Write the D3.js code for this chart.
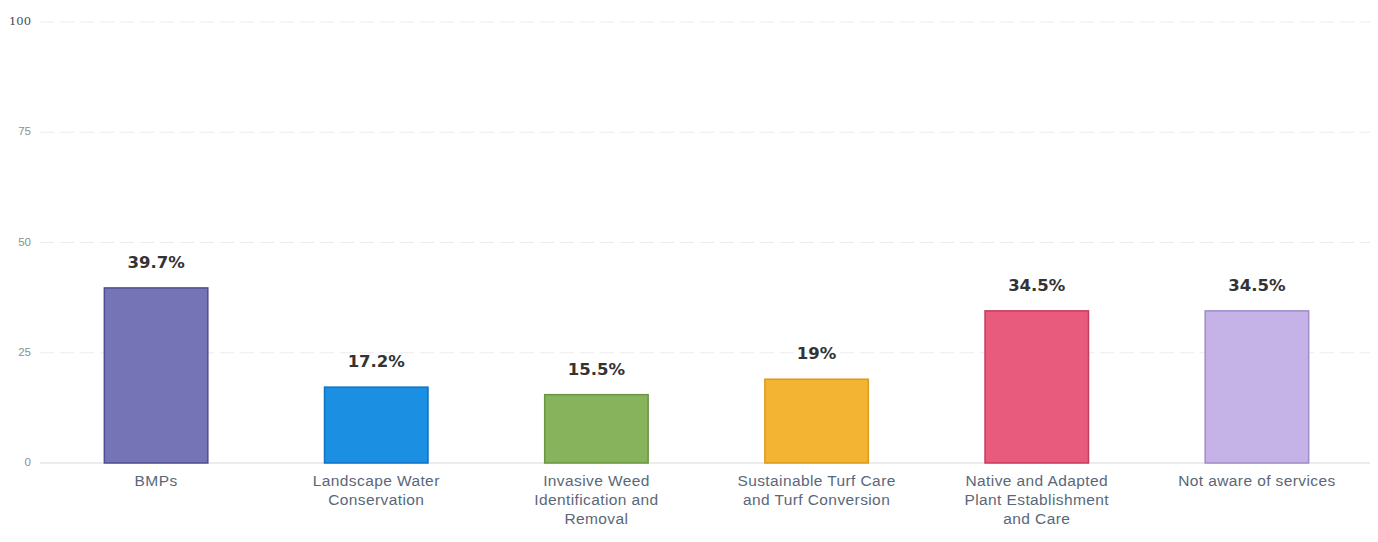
<!DOCTYPE html>
<html>
<head>
<meta charset="utf-8">
<script src="https://cdn.jsdelivr.net/npm/d3@7"></script>
<style>
  html, body { margin: 0; padding: 0; background: #fff; }
  svg { display: block; }
</style>
</head>
<body>
<svg id="chart" width="1378" height="542"></svg>
<script>
// Survey responses: awareness of extension services (percent)
const categories = [
  "BMPs",
  "Landscape Water Conservation",
  "Invasive Weed Identification and Removal",
  "Sustainable Turf Care and Turf Conversion",
  "Native and Adapted Plant Establishment and Care",
  "Not aware of services"
];
const values = [39.7, 17.2, 15.5, 19, 34.5, 34.5];
const valueLabels = ["39.7%", "17.2%", "15.5%", "19%", "34.5%", "34.5%"];
const yTicks = [0, 25, 50, 75, 100];
const fills = ["#7474b6", "#1b8fe2", "#86b35c", "#f4b433", "#e95b7d", "#c5b2e6"];
const strokes = ["#4d4d92", "#0f72c2", "#6a9545", "#dc9a1e", "#c63c5e", "#9f8cc9"];

const svg = d3.select("#chart");
const margin = { left: 46, right: 11, top: 22, bottom: 79 };
const W = 1378, H = 542;

const x = d3.scaleBand()
  .domain(categories)
  .range([margin.left, W - margin.right])
  .paddingInner(0.53)
  .paddingOuter(0.265);

const y = d3.scaleLinear()
  .domain([0, 100])
  .range([H - margin.bottom, margin.top]);

// Horizontal gridlines
svg.append("g")
  .selectAll("line")
  .data(yTicks)
  .join("line")
  .attr("x1", 40)
  .attr("x2", W - 8)
  .attr("y1", d => y(d))
  .attr("y2", d => y(d))
  .attr("stroke", d => d === 0 ? "#d9d9d9" : "#ececec")
  .attr("stroke-width", 1)
  .attr("stroke-dasharray", d => d === 0 ? null : "14,6");

// Y axis tick labels
const yAxis = d3.axisLeft(y).tickValues(yTicks).tickSize(0).tickPadding(0);
const gy = svg.append("g")
  .attr("transform", "translate(31,-1)")
  .call(yAxis);
gy.select(".domain").remove();
gy.selectAll("text")
  .attr("text-anchor", "end")
  .attr("font-family", d => d === 100 ? "'DejaVu Serif', serif" : "'Liberation Sans', Arial, sans-serif")
  .attr("font-size", 11.5)
  .attr("fill", d => d === 100 ? "#3e4a5a" : "#8a8f96");

// Bars
svg.append("g")
  .selectAll("rect")
  .data(values)
  .join("rect")
  .attr("x", (d, i) => x(categories[i]))
  .attr("y", d => y(d))
  .attr("width", x.bandwidth())
  .attr("height", d => y(0) - y(d))
  .attr("fill", (d, i) => fills[i])
  .attr("stroke", (d, i) => strokes[i])
  .attr("stroke-width", 1.5);

// Value labels above bars
svg.append("g")
  .selectAll("text")
  .data(values)
  .join("text")
  .attr("x", (d, i) => x(categories[i]) + x.bandwidth() / 2)
  .attr("y", d => y(d) - 20)
  .attr("text-anchor", "middle")
  .attr("font-family", "'DejaVu Sans', sans-serif")
  .attr("font-weight", "bold")
  .attr("font-size", 16.5)
  .attr("fill", "#333")
  .text((d, i) => valueLabels[i]);

// Category labels, wrapped to fit under each bar
const labelFont = "15.5px 'Liberation Sans', Arial, sans-serif";
function wrapLines(text, maxWidth, ctx) {
  const words = text.split(" ");
  const lines = [];
  let line = "";
  for (const w of words) {
    const test = line ? line + " " + w : w;
    if (ctx.measureText(test).width > maxWidth && line) {
      lines.push(line);
      line = w;
    } else {
      line = test;
    }
  }
  if (line) lines.push(line);
  return lines;
}
const ctx = document.createElement("canvas").getContext("2d");
ctx.font = labelFont;

const labelG = svg.append("g");
categories.forEach((c, i) => {
  const lines = wrapLines(c, 165, ctx);
  const cx = x(c) + x.bandwidth() / 2;
  const t = labelG.append("text")
    .attr("x", cx)
    .attr("y", y(0) + 23)
    .attr("text-anchor", "middle")
    .attr("font-family", "'Liberation Sans', Arial, sans-serif")
    .attr("font-size", 15.5)
    .attr("letter-spacing", 0.4)
    .attr("fill", "#5a6779");
  lines.forEach((l, j) => {
    t.append("tspan")
      .attr("x", cx)
      .attr("dy", j === 0 ? 0 : 19)
      .text(l);
  });
});
</script>
</body>
</html>
